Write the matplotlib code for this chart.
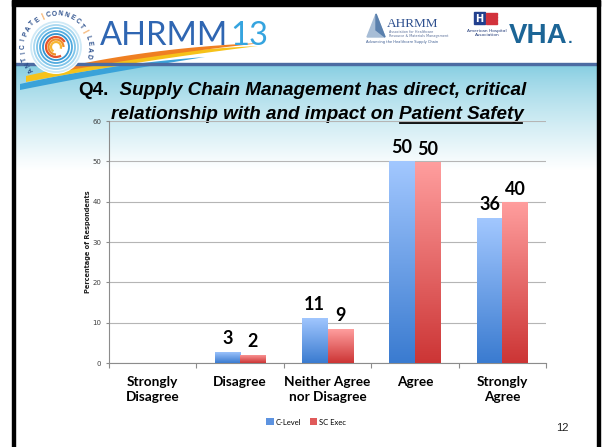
import numpy as np
import matplotlib
matplotlib.use("Agg")
import matplotlib.pyplot as plt
from matplotlib.patches import Rectangle, Polygon, Circle, Arc, Patch
from matplotlib.colors import to_rgb

# ---------------- data ----------------
categories = ["Strongly\nDisagree", "Disagree", "Neither Agree\nnor Disagree", "Agree", "Strongly\nAgree"]
c_level = [0, 2.8, 11.2, 50.2, 36.0]
sc_exec = [0, 2.0, 8.4, 49.8, 39.8]
c_level_labels = ["", "3", "11", "50", "36"]
sc_exec_labels = ["", "2", "9", "50", "40"]
series_names = ["C-Level", "SC Exec"]
y_ticks = [0, 10, 20, 30, 40, 50, 60]
title_line1 = ("Q4.", "  Supply Chain Management has direct, critical")
title_line2 = ("relationship with and impact on ", "Patient Safety")
page_number = "12"

W, H = 602, 447
fig = plt.figure(figsize=(W / 100, H / 100), dpi=100)
fig.patch.set_facecolor("white")

bg = fig.add_axes([0, 0, 1, 1], zorder=0)
bg.set_xlim(0, W)
bg.set_ylim(H, 0)
bg.axis("off")


def vgrad(c_top, c_bot, n=256, gamma=1.0):
    a = np.array(to_rgb(c_top))
    b = np.array(to_rgb(c_bot))
    t = (np.linspace(0, 1, n) ** gamma)[:, None]
    return (a * (1 - t) + b * t)[:, None, :]


# light teal band under the header
bg.imshow(vgrad("#84cde1", "#ffffff", gamma=0.8), extent=[14, 598, 170, 65],
          aspect="auto", zorder=0, interpolation="bilinear")

# slide frame
bg.add_patch(Rectangle((12, 0), 588, 6, color="black", zorder=5))
bg.add_patch(Rectangle((12, 0), 3, H, color="black", zorder=5))
bg.add_patch(Rectangle((597, 0), 3, H, color="black", zorder=5))
# header rule
bg.add_patch(Rectangle((15, 62.5), 582, 2.5, color="#4c6ba2", zorder=3))


# ---------------- header decoration ----------------
def bez(p0, p1, p2, n=40):
    t = np.linspace(0, 1, n)[:, None]
    p0, p1, p2 = map(np.array, (p0, p1, p2))
    return (1 - t) ** 2 * p0 + 2 * (1 - t) * t * p1 + t ** 2 * p2


def band(top, bot, color):
    pts = np.vstack([bez(*top), bez(*bot)])
    bg.add_patch(Polygon(pts, closed=True, color=color, zorder=2, lw=0))


band(((20, 84), (110, 64), (205, 57)), ((205, 57), (110, 72), (20, 90)), "#3aa2d9")
band(((26, 76), (130, 52), (258, 46)), ((258, 46), (130, 62), (26, 82)), "#f6c21a")
band(((70, 66), (160, 47), (262, 43)), ((262, 43), (160, 54), (70, 70)), "#ef7f22")

cx, cy = 56, 47
bg.add_patch(Circle((cx, cy), 27, facecolor="white", edgecolor="none", zorder=3))
for r, col in [(25, "#cfe9f6"), (22, "#a9d8f0"), (19, "#7cc3e9"), (16, "#52abdf"), (13, "#3393d0")]:
    bg.add_patch(Circle((cx, cy), r, facecolor="none", edgecolor=col, lw=1.3, zorder=4))
for r, col, t1, t2 in [(10, "#e5532d", 60, 330), (7.5, "#f08f2a", 90, 360), (5, "#f7b733", 120, 380)]:
    bg.add_patch(Arc((cx, cy), 2 * r, 2 * r, theta1=t1, theta2=t2, color=col, lw=1.6, zorder=4))

arc_text = "ANTICIPATE|CONNECT|LEAD"
R = 33
angs = np.linspace(222, -15, len(arc_text))
for ch, a in zip(arc_text, angs):
    rad = np.deg2rad(a)
    bg.text(cx + R * np.cos(rad), cy - R * np.sin(rad), ch, rotation=a - 90,
            ha="center", va="center", fontsize=4.8, fontweight="bold",
            color="#f08a24" if ch == "|" else "#2b4f8c", family="Liberation Sans", zorder=6)

fig.canvas.draw()
renderer = fig.canvas.get_renderer()


def text_width_px(t):
    return t.get_window_extent(renderer).width


t_a = bg.text(100, 45, "AHRMM", fontsize=23.5, color="#2f66b2", family="Lato",
              va="baseline", ha="left", zorder=6)
wa = text_width_px(t_a)
bg.text(100 + wa + 2, 45, "13", fontsize=23.5, color="#35a4df", family="Lato",
        va="baseline", ha="left", zorder=6)

# AHRMM association logo
bg.add_patch(Polygon([(367, 37), (376, 14), (385, 37)], closed=True, color="#a7bdd6", zorder=4))
bg.add_patch(Polygon([(376, 14), (385, 37), (376, 30)], closed=True, color="#5a80ad", zorder=4))
bg.text(387, 27, "AHRMM", fontsize=9.5, family="Liberation Serif", color="#2d4f8e",
        va="baseline", ha="left", zorder=6)
bg.text(389, 32, "Association for Healthcare", fontsize=2.4, color="#5a6f9a", ha="left", va="center")
bg.text(389, 35.5, "Resource & Materials Management", fontsize=2.4, color="#5a6f9a", ha="left", va="center")
bg.text(366, 42, "Advancing the Healthcare Supply Chain", fontsize=2.6, color="#3a5a90", ha="left", va="center")

# AHA logo
bg.add_patch(Rectangle((474, 12), 11, 12, color="#22408e", zorder=4))
bg.text(479.5, 18.5, "H", fontsize=7, fontweight="bold", color="white", ha="center", va="center", zorder=6)
for i in range(4):
    bg.add_patch(Rectangle((486, 13 + i * 3), 11, 1.6, color="#d2323c", zorder=4))
bg.text(487, 31, "American Hospital", fontsize=3.2, color="#233c7a", ha="center", va="center")
bg.text(487, 35.5, "Association", fontsize=3.2, color="#233c7a", ha="center", va="center")

# VHA logo
t_v = bg.text(509, 43, "VHA", fontsize=20, fontweight="bold", family="Liberation Sans",
              color="#1c6596", ha="left", va="baseline", zorder=6)
wv = text_width_px(t_v)
bg.text(509 + wv + 0.5, 43, ".", fontsize=9, fontweight="bold", color="#1c6596",
        ha="left", va="baseline", zorder=6)

# ---------------- title ----------------
title_fs = 13.6


def place_line(parts, yc, xc):
    texts = []
    for s, style, ul in parts:
        t = bg.text(0, yc, s, fontsize=title_fs, fontweight="bold", fontstyle=style,
                    family="Liberation Sans", ha="left", va="baseline", color="black", zorder=6)
        texts.append((t, ul))
    widths = [text_width_px(t) for t, _ in texts]
    x = xc - sum(widths) / 2
    for (t, ul), w in zip(texts, widths):
        t.set_x(x)
        if ul:
            bg.plot([x + 1, x + w - 1], [yc + 3.5, yc + 3.5], color="black", lw=1.3, zorder=6)
        x += w


place_line([(title_line1[0], "normal", False), (title_line1[1], "italic", False)], 95, 302)
place_line([(title_line2[0], "italic", False), (title_line2[1], "italic", True)], 119, 317)

# ---------------- chart ----------------
ax = fig.add_axes([109 / W, 1 - 363 / H, 437 / W, 242 / H], zorder=2)
ax.patch.set_alpha(0)

x = np.arange(len(categories))
bw = 0.292
bars1 = ax.bar(x - bw / 2, c_level, bw, color="none", label=series_names[0], zorder=3)
bars2 = ax.bar(x + bw / 2, sc_exec, bw, color="none", label=series_names[1], zorder=3)

g_blue = vgrad("#a3c8ff", "#3a7bd0")
g_red = vgrad("#ff9e9e", "#cc3535")
for bars, g in [(bars1, g_blue), (bars2, g_red)]:
    for b in bars:
        h = b.get_height()
        if h <= 0:
            continue
        x0 = b.get_x()
        im = ax.imshow(g, extent=[x0, x0 + b.get_width(), 0, h], aspect="auto",
                       zorder=3, interpolation="bilinear")
        im.set_clip_path(b)

for bars, labels in [(bars1, c_level_labels), (bars2, sc_exec_labels)]:
    for b, lab in zip(bars, labels):
        if not lab:
            continue
        ax.annotate(lab, (b.get_x() + b.get_width() / 2, b.get_height()),
                    xytext=(0, 5.5), textcoords="offset points", ha="center", va="baseline",
                    fontsize=13, fontweight="bold", family="Lato", color="black", zorder=5)

ax.set_xlim(-0.5, len(categories) - 0.5)
ax.set_ylim(0, 60)
ax.set_yticks(y_ticks)
ax.yaxis.grid(True, color="#b5b5b5", lw=0.8)
ax.set_axisbelow(True)
for s in ["top", "right"]:
    ax.spines[s].set_visible(False)
for s in ["left", "bottom"]:
    ax.spines[s].set_color("#8c8c8c")
    ax.spines[s].set_linewidth(0.8)

ax.tick_params(axis="y", length=2.5, width=0.8, color="#8c8c8c", labelsize=5,
               labelcolor="#404040", pad=3)
ax.set_xticks(x)
ax.set_xticklabels(categories, fontsize=9.8, fontweight="bold", family="Lato", linespacing=1.3)
ax.tick_params(axis="x", which="major", length=0, pad=9.5)
ax.set_xticks(np.arange(len(categories) + 1) - 0.5, minor=True)
ax.tick_params(axis="x", which="minor", length=3.5, width=0.8, color="#8c8c8c")

fig.text(88 / W, 1 - 242 / H, "Percentage of Respondents", rotation=90, fontsize=4.8,
         fontweight="bold", ha="center", va="center", color="#202020")

handles = [Patch(facecolor="#5d93e0", edgecolor="none"), Patch(facecolor="#e05a5a", edgecolor="none")]
fig.legend(handles, series_names, loc="center", bbox_to_anchor=(306 / W, 1 - 422 / H), ncol=2,
           frameon=False, handlelength=1.0, handleheight=1.0, handletextpad=0.2,
           columnspacing=1.2, prop={"family": "Lato", "size": 5.5})

fig.text(562 / W, 1 - 428 / H, page_number, fontsize=8, family="Liberation Sans",
         ha="center", va="center", color="#222222")

fig.savefig("out.png", dpi=100)
